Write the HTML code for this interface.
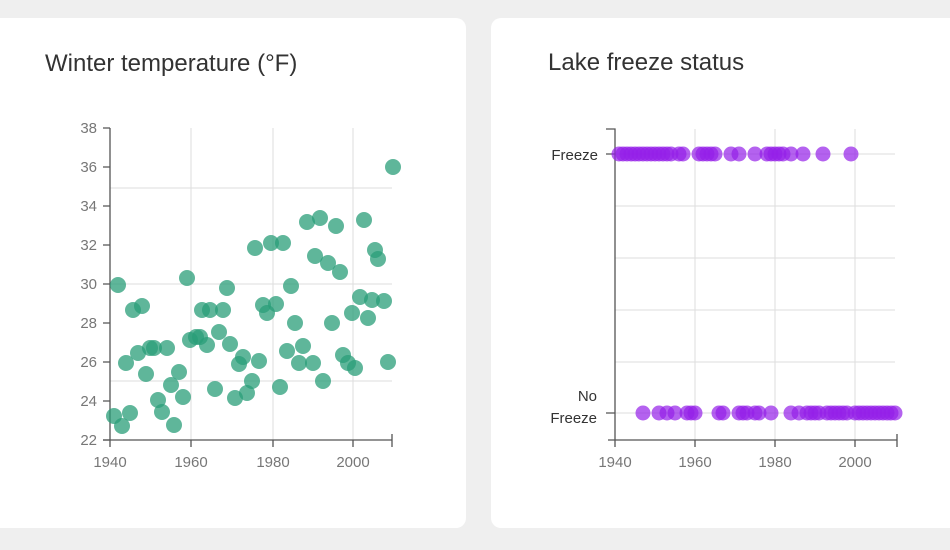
<!DOCTYPE html>
<html><head><meta charset="utf-8"><style>
body{margin:0;width:950px;height:550px;background:#efefef;overflow:hidden;font-family:"Liberation Sans",sans-serif}
.card{position:absolute;background:#fff;border-radius:10px}
svg{position:absolute;left:0;top:0}
text{font-family:"Liberation Sans",sans-serif}
</style></head><body>
<div class="card" style="left:-10px;top:18px;width:476px;height:510px"></div>
<div class="card" style="left:491px;top:18px;width:480px;height:510px"></div>
<svg width="950" height="550">
<text x="45" y="71" font-size="24" fill="#333">Winter temperature (°F)</text>
<text x="548" y="70" font-size="24" fill="#333">Lake freeze status</text>
<g stroke="#ddd" stroke-width="1">
<line x1="191" y1="128" x2="191" y2="440"/><line x1="273" y1="128" x2="273" y2="440"/><line x1="353" y1="128" x2="353" y2="440"/>
<line x1="110" y1="188" x2="392" y2="188"/><line x1="110" y1="284" x2="392" y2="284"/><line x1="110" y1="381" x2="392" y2="381"/>
<line x1="695" y1="129" x2="695" y2="440"/><line x1="775" y1="129" x2="775" y2="440"/><line x1="855" y1="129" x2="855" y2="440"/>
<line x1="615" y1="154" x2="895" y2="154"/><line x1="615" y1="206" x2="895" y2="206"/><line x1="615" y1="258" x2="895" y2="258"/><line x1="615" y1="310" x2="895" y2="310"/><line x1="615" y1="362" x2="895" y2="362"/><line x1="615" y1="413" x2="895" y2="413"/>
</g>
<g stroke="#555" stroke-width="1.3" fill="none">
<path d="M110 128V440M103 128H110M103 167H110M103 206H110M103 245H110M103 284H110M103 323H110M103 362H110M103 401H110M103 440H110"/>
<path d="M103 440H392M110 440V447M191 440V447M273 440V447M353 440V447M392 434V447"/>
<path d="M606 129H615V440M606 154H615M606 413H615M608 440H897M615 440V447M695 440V447M775 440V447M855 440V447M897 434V447"/>
</g>
<g font-size="15" fill="#777" text-anchor="end">
<text x="97" y="133">38</text><text x="97" y="172">36</text><text x="97" y="211">34</text><text x="97" y="250">32</text><text x="97" y="289">30</text><text x="97" y="328">28</text><text x="97" y="367">26</text><text x="97" y="406">24</text><text x="97" y="445">22</text>
</g>
<g font-size="15" fill="#777" text-anchor="middle">
<text x="110" y="467">1940</text><text x="191" y="467">1960</text><text x="273" y="467">1980</text><text x="353" y="467">2000</text>
<text x="615" y="467">1940</text><text x="695" y="467">1960</text><text x="775" y="467">1980</text><text x="855" y="467">2000</text>
</g>
<g font-size="15" fill="#333" text-anchor="end">
<text x="598" y="160">Freeze</text><text x="597" y="401">No</text><text x="597" y="423">Freeze</text>
</g>
<g fill="#2a9d78" fill-opacity="0.75">
<circle cx="114" cy="416" r="8"/><circle cx="122" cy="426" r="8"/><circle cx="118" cy="285" r="8"/><circle cx="130" cy="413" r="8"/><circle cx="126" cy="363" r="8"/><circle cx="133" cy="310" r="8"/><circle cx="142" cy="306" r="8"/><circle cx="138" cy="353" r="8"/><circle cx="146" cy="374" r="8"/><circle cx="150" cy="348" r="8"/><circle cx="154" cy="348" r="8"/><circle cx="167" cy="348" r="8"/><circle cx="158" cy="400" r="8"/><circle cx="162" cy="412" r="8"/><circle cx="171" cy="385" r="8"/><circle cx="179" cy="372" r="8"/><circle cx="174" cy="425" r="8"/><circle cx="183" cy="397" r="8"/><circle cx="187" cy="278" r="8"/><circle cx="190" cy="340" r="8"/><circle cx="196" cy="337" r="8"/><circle cx="200" cy="337" r="8"/><circle cx="207" cy="345" r="8"/><circle cx="202" cy="310" r="8"/><circle cx="210" cy="310" r="8"/><circle cx="223" cy="310" r="8"/><circle cx="215" cy="389" r="8"/><circle cx="219" cy="332" r="8"/><circle cx="227" cy="288" r="8"/><circle cx="230" cy="344" r="8"/><circle cx="235" cy="398" r="8"/><circle cx="239" cy="364" r="8"/><circle cx="243" cy="357" r="8"/><circle cx="247" cy="393" r="8"/><circle cx="252" cy="381" r="8"/><circle cx="255" cy="248" r="8"/><circle cx="259" cy="361" r="8"/><circle cx="263" cy="305" r="8"/><circle cx="267" cy="313" r="8"/><circle cx="271" cy="243" r="8"/><circle cx="276" cy="304" r="8"/><circle cx="283" cy="243" r="8"/><circle cx="280" cy="387" r="8"/><circle cx="287" cy="351" r="8"/><circle cx="291" cy="286" r="8"/><circle cx="295" cy="323" r="8"/><circle cx="299" cy="363" r="8"/><circle cx="303" cy="346" r="8"/><circle cx="307" cy="222" r="8"/><circle cx="313" cy="363" r="8"/><circle cx="320" cy="218" r="8"/><circle cx="315" cy="256" r="8"/><circle cx="323" cy="381" r="8"/><circle cx="328" cy="263" r="8"/><circle cx="332" cy="323" r="8"/><circle cx="336" cy="226" r="8"/><circle cx="340" cy="272" r="8"/><circle cx="343" cy="355" r="8"/><circle cx="348" cy="363" r="8"/><circle cx="355" cy="368" r="8"/><circle cx="352" cy="313" r="8"/><circle cx="360" cy="297" r="8"/><circle cx="364" cy="220" r="8"/><circle cx="368" cy="318" r="8"/><circle cx="372" cy="300" r="8"/><circle cx="375" cy="250" r="8"/><circle cx="378" cy="259" r="8"/><circle cx="384" cy="301" r="8"/><circle cx="388" cy="362" r="8"/><circle cx="393" cy="167" r="8"/>
</g>
<g fill="#9420e8" fill-opacity="0.7">
<circle cx="619" cy="154" r="7.5"/><circle cx="623" cy="154" r="7.5"/><circle cx="627" cy="154" r="7.5"/><circle cx="631" cy="154" r="7.5"/><circle cx="635" cy="154" r="7.5"/><circle cx="639" cy="154" r="7.5"/><circle cx="643" cy="154" r="7.5"/><circle cx="647" cy="154" r="7.5"/><circle cx="651" cy="154" r="7.5"/><circle cx="655" cy="154" r="7.5"/><circle cx="659" cy="154" r="7.5"/><circle cx="663" cy="154" r="7.5"/><circle cx="667" cy="154" r="7.5"/><circle cx="671" cy="154" r="7.5"/><circle cx="679" cy="154" r="7.5"/><circle cx="683" cy="154" r="7.5"/><circle cx="699" cy="154" r="7.5"/><circle cx="703" cy="154" r="7.5"/><circle cx="707" cy="154" r="7.5"/><circle cx="711" cy="154" r="7.5"/><circle cx="715" cy="154" r="7.5"/><circle cx="731" cy="154" r="7.5"/><circle cx="739" cy="154" r="7.5"/><circle cx="755" cy="154" r="7.5"/><circle cx="767" cy="154" r="7.5"/><circle cx="771" cy="154" r="7.5"/><circle cx="775" cy="154" r="7.5"/><circle cx="779" cy="154" r="7.5"/><circle cx="783" cy="154" r="7.5"/><circle cx="791" cy="154" r="7.5"/><circle cx="803" cy="154" r="7.5"/><circle cx="823" cy="154" r="7.5"/><circle cx="851" cy="154" r="7.5"/>
<circle cx="643" cy="413" r="7.5"/><circle cx="659" cy="413" r="7.5"/><circle cx="667" cy="413" r="7.5"/><circle cx="675" cy="413" r="7.5"/><circle cx="687" cy="413" r="7.5"/><circle cx="691" cy="413" r="7.5"/><circle cx="695" cy="413" r="7.5"/><circle cx="719" cy="413" r="7.5"/><circle cx="723" cy="413" r="7.5"/><circle cx="739" cy="413" r="7.5"/><circle cx="743" cy="413" r="7.5"/><circle cx="747" cy="413" r="7.5"/><circle cx="755" cy="413" r="7.5"/><circle cx="759" cy="413" r="7.5"/><circle cx="771" cy="413" r="7.5"/><circle cx="791" cy="413" r="7.5"/><circle cx="799" cy="413" r="7.5"/><circle cx="807" cy="413" r="7.5"/><circle cx="811" cy="413" r="7.5"/><circle cx="815" cy="413" r="7.5"/><circle cx="819" cy="413" r="7.5"/><circle cx="827" cy="413" r="7.5"/><circle cx="831" cy="413" r="7.5"/><circle cx="835" cy="413" r="7.5"/><circle cx="839" cy="413" r="7.5"/><circle cx="843" cy="413" r="7.5"/><circle cx="847" cy="413" r="7.5"/><circle cx="855" cy="413" r="7.5"/><circle cx="859" cy="413" r="7.5"/><circle cx="863" cy="413" r="7.5"/><circle cx="867" cy="413" r="7.5"/><circle cx="871" cy="413" r="7.5"/><circle cx="875" cy="413" r="7.5"/><circle cx="879" cy="413" r="7.5"/><circle cx="883" cy="413" r="7.5"/><circle cx="887" cy="413" r="7.5"/><circle cx="891" cy="413" r="7.5"/><circle cx="895" cy="413" r="7.5"/>
</g>
</svg>
</body></html>
